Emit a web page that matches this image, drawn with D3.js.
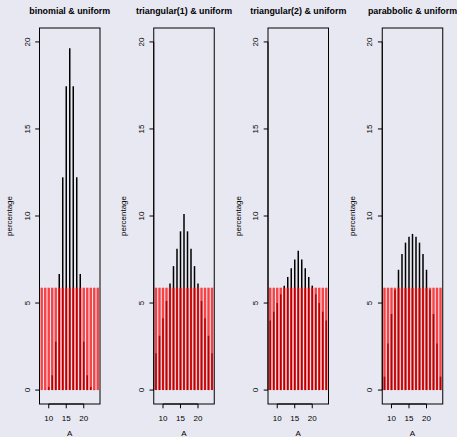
<!DOCTYPE html>
<html>
<head>
<meta charset="utf-8">
<script src="https://cdn.jsdelivr.net/npm/d3@7"></script>
<style>
  body { margin: 0; background: #e8e8f2; }
  svg { display: block; font-family: "Liberation Sans", Arial, sans-serif; }
</style>
</head>
<body>
<svg id="chart"></svg>
<script>
const A = [8, 9, 10, 11, 12, 13, 14, 15, 16, 17, 18, 19, 20, 21, 22, 23, 24];
const binomial = [0.0015, 0.024, 0.18, 0.85, 2.78, 6.67, 12.22, 17.46, 19.64, 17.46, 12.22, 6.67, 2.78, 0.85, 0.18, 0.024, 0.0015];
const triangular1 = [2.12, 3.12, 4.12, 5.12, 6.12, 7.12, 8.12, 9.12, 10.12, 9.12, 8.12, 7.12, 6.12, 5.12, 4.12, 3.12, 2.12];
const triangular2 = [4.0, 4.5, 5.0, 5.5, 6.0, 6.5, 7.0, 7.5, 8.0, 7.5, 7.0, 6.5, 6.0, 5.5, 5.0, 4.5, 4.0];
const parabolic = [0.77, 2.68, 4.37, 5.76, 6.91, 7.82, 8.47, 8.81, 8.97, 8.81, 8.47, 7.82, 6.91, 5.76, 4.37, 2.68, 0.77];
const uniform = [5.88, 5.88, 5.88, 5.88, 5.88, 5.88, 5.88, 5.88, 5.88, 5.88, 5.88, 5.88, 5.88, 5.88, 5.88, 5.88, 5.88];
const titles = ["binomial & uniform", "triangular(1) & uniform", "triangular(2) & uniform", "parabbolic & uniform"];
const series = [binomial, triangular1, triangular2, parabolic];
const xTicks = [10, 15, 20];
const yTicks = [0, 5, 10, 15, 20];

const width = 457;
const height = 437;
const panelW = width / 4;
const margin = { top: 28, right: 14.25, bottom: 33, left: 39.5 };

const svg = d3.select("#chart").attr("width", width).attr("height", height);

series.forEach((vals, i) => {
  const g = svg.append("g").attr("transform", `translate(${i * panelW},0)`);
  const x = d3.scaleLinear().domain([7.36, 24.64]).range([margin.left, panelW - margin.right]);
  const y = d3.scaleLinear().domain([-0.8, 20.8]).range([height - margin.bottom, margin.top]);

  // black spikes
  g.selectAll(".spike")
    .data(A.map((a, j) => ({ a, v: vals[j] })))
    .enter()
    .append("line")
    .attr("x1", (d) => x(d.a))
    .attr("x2", (d) => x(d.a))
    .attr("y1", y(0))
    .attr("y2", (d) => y(d.v))
    .attr("stroke", "#000")
    .attr("stroke-width", 1.5);

  // uniform spikes, semi-transparent red
  g.selectAll(".unif")
    .data(A.map((a, j) => ({ a, v: uniform[j] })))
    .enter()
    .append("line")
    .attr("x1", (d) => x(d.a))
    .attr("x2", (d) => x(d.a))
    .attr("y1", y(0))
    .attr("y2", (d) => y(d.v))
    .attr("stroke", "#ff0000")
    .attr("stroke-opacity", 0.72)
    .attr("stroke-width", 2.4);

  // box
  g.append("rect")
    .attr("x", margin.left)
    .attr("y", margin.top)
    .attr("width", panelW - margin.left - margin.right)
    .attr("height", height - margin.top - margin.bottom)
    .attr("fill", "none")
    .attr("stroke", "#000")
    .attr("stroke-width", 1);

  // x axis
  const xa = g.append("g").attr("transform", `translate(0,${height - margin.bottom})`);
  xa.append("line")
    .attr("x1", x(xTicks[0])).attr("x2", x(xTicks[xTicks.length - 1]))
    .attr("stroke", "#000");
  xa.selectAll(".xt").data(xTicks).enter().append("line")
    .attr("x1", (d) => x(d)).attr("x2", (d) => x(d))
    .attr("y1", 0).attr("y2", 4.3)
    .attr("stroke", "#000");
  xa.selectAll(".xl").data(xTicks).enter().append("text")
    .attr("x", (d) => x(d)).attr("y", 17)
    .attr("text-anchor", "middle")
    .attr("font-size", 8)
    .text((d) => d);

  // y axis
  const ya = g.append("g").attr("transform", `translate(${margin.left},0)`);
  ya.append("line")
    .attr("y1", y(yTicks[0])).attr("y2", y(yTicks[yTicks.length - 1]))
    .attr("stroke", "#000");
  ya.selectAll(".yt").data(yTicks).enter().append("line")
    .attr("y1", (d) => y(d)).attr("y2", (d) => y(d))
    .attr("x1", 0).attr("x2", -4.3)
    .attr("stroke", "#000");
  ya.selectAll(".yl").data(yTicks).enter().append("text")
    .attr("transform", (d) => `translate(-10,${y(d)}) rotate(-90)`)
    .attr("text-anchor", "middle")
    .attr("font-size", 8)
    .text((d) => d);

  // labels
  const cx = (margin.left + panelW - margin.right) / 2;
  g.append("text")
    .attr("x", cx).attr("y", 14)
    .attr("text-anchor", "middle")
    .attr("font-size", 8.9)
    .attr("font-weight", "bold")
    .text(titles[i]);
  g.append("text")
    .attr("x", cx).attr("y", 436)
    .attr("text-anchor", "middle")
    .attr("font-size", 8)
    .text("A");
  g.append("text")
    .attr("transform", `translate(12,${(margin.top + height - margin.bottom) / 2}) rotate(-90)`)
    .attr("text-anchor", "middle")
    .attr("font-size", 8)
    .text("percentage");
});
</script>
</body>
</html>
